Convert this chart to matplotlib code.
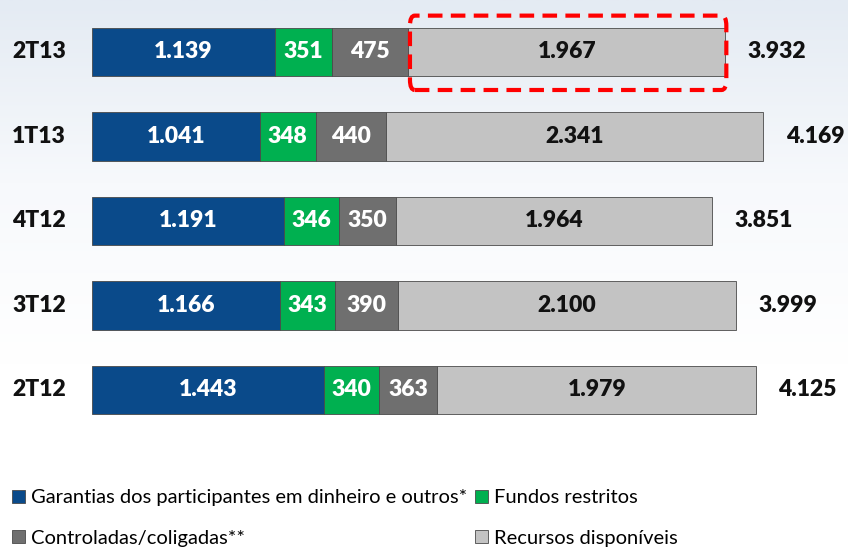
import numpy as np
import matplotlib.pyplot as plt
from matplotlib.patches import FancyBboxPatch

plt.rcParams['font.family'] = ['Lato', 'DejaVu Sans']

# data, bottom row first
periods = ['2T12', '3T12', '4T12', '1T13', '2T13']
garantias = [1443, 1166, 1191, 1041, 1139]
fundos = [340, 343, 346, 348, 351]
controladas = [363, 390, 350, 440, 475]
recursos = [1979, 2100, 1964, 2341, 1967]
totais = ['4.125', '3.999', '3.851', '4.169', '3.932']

series = [garantias, fundos, controladas, recursos]
names = ['Garantias dos participantes em dinheiro e outros*', 'Fundos restritos',
         'Controladas/coligadas**', 'Recursos disponíveis']
colors = ['#0a4a8a', '#00b050', '#6f6f6f', '#c3c3c3']
txt_colors = ['white', 'white', 'white', '#111111']


def fmt(v):
    return f'{v:,}'.replace(',', '.')


fig = plt.figure(figsize=(8.48, 5.47), dpi=100)

# faint background gradient
bg = fig.add_axes([0, 0, 1, 1], zorder=0)
grad = np.linspace(0, 1, 256).reshape(-1, 1)
bg.imshow(grad, aspect='auto', cmap=plt.matplotlib.colors.LinearSegmentedColormap.from_list(
    'bg', ['#e4ebf3', '#f7f9fc', '#ffffff', '#ffffff']), extent=[0, 1, 0, 1])
bg.axis('off')

ax = fig.add_axes([0, 0, 1, 1], zorder=1)
ax.patch.set_alpha(0)
y = np.arange(len(periods))
h = 0.57
left = np.zeros(len(periods))
bars = []
for vals, c, tc, name in zip(series, colors, txt_colors, names):
    b = ax.barh(y, vals, left=left, height=h, color=c, edgecolor='#4a4a4a',
                linewidth=0.6, label=name)
    for yi, v, l in zip(y, vals, left):
        ax.text(l + v / 2, yi, fmt(v), ha='center', va='center', color=tc,
                fontsize=16.5, fontweight='heavy')
    bars.append(b)
    left = left + np.array(vals)

for yi, tot, l in zip(y, totais, left):
    ax.annotate(tot, (l, yi), xytext=(16, 0), textcoords='offset points',
                ha='left', va='center', fontsize=16.5, fontweight='heavy', color='#111111')
    ax.text(-330, yi, periods[yi], ha='center', va='center', fontsize=16.5,
            fontweight='heavy', color='#111111')

# highlight box on latest "Recursos disponíveis"
top = len(periods) - 1
x0 = left[top] - recursos[top]
ax.add_patch(FancyBboxPatch((x0 + 10, top - 0.45), recursos[top] - 2, 0.88,
                            boxstyle='round,pad=0,rounding_size=30',
                            mutation_aspect=0.004,
                            fill=False, edgecolor='#ff0000', linewidth=3,
                            linestyle=(0, (3.5, 2)), zorder=5))

ax.set_xlim(-571.4, 4695.7)
ax.set_ylim(-1.858, 4.615)
ax.axis('off')

handles = [bars[0], bars[2], bars[1], bars[3]]
labels = [names[0], names[2], names[1], names[3]]
fig.legend(handles, labels, ncol=2, loc='upper left', bbox_to_anchor=(0.005, 0.12),
           frameon=False, fontsize=14.5, handlelength=0.65, handleheight=0.65,
           handletextpad=0.3, columnspacing=0.35, labelspacing=1.15, borderaxespad=0)

fig.savefig('out.png', dpi=100)
